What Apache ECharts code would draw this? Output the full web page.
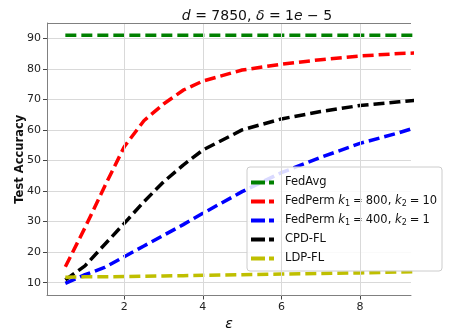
<!DOCTYPE html>
<html><head><meta charset="utf-8">
<script src="https://cdn.jsdelivr.net/npm/echarts@6/dist/echarts.min.js"></script>
<style>html,body{margin:0;padding:0;background:#fff;overflow:hidden}#c{width:451px;height:328px}</style>
</head><body><div id="c"></div>
<script>
// ---- data ----
var seriesNames = ['FedAvg', 'FedPerm800', 'FedPerm400', 'CPD-FL', 'LDP-FL'];
var epsAll  = [0.5, 1, 1.5, 2, 2.5, 3, 3.5, 4, 5, 6, 7, 8, 9, 10];
var epsRed  = [0.5, 1, 1.5, 2, 2.5, 3, 3.5, 4, 5, 6, 7, 8, 9, 9.8];
var epsBlue = [0.5, 1, 1.5, 2, 2.5, 3, 3.5, 4, 5, 6, 7, 8, 9, 9.57];
var fedAvg   = [91, 91, 91, 91, 91, 91, 91, 91, 91, 91, 91, 91, 91, 91];
var fedPerm800 = [15.2, 28, 41.5, 54.5, 63, 68.5, 73, 76, 79.6, 81.5, 83, 84.2, 85, 85.3];
var fedPerm400 = [9.8, 12.6, 15, 18.5, 22, 25.5, 29, 32.7, 39.8, 46, 51, 55.6, 59.1, 61.4];
var cpdFL    = [10.9, 15.5, 22.5, 29.4, 36.5, 43, 48.5, 53.4, 60, 63.6, 66, 68, 69.2, 70.4];
var ldpFL    = [11.8, 11.9, 11.9, 12.0, 12.1, 12.2, 12.3, 12.4, 12.6, 12.8, 13.0, 13.2, 13.5, 13.8];
var xTicks = [2, 4, 6, 8, 10];
var yTicks = [10, 20, 30, 40, 50, 60, 70, 80, 90];

function pairs(xs, ys) { return xs.map(function (x, i) { return [x, ys[i]]; }); }

var FONT = 'DejaVu Sans';
var dash = [11, 5];
var colors = ['#008000', '#ff0000', '#0000ff', '#000000', '#bfbf00'];
var iconPath = 'path://M0,0H14V4H0Z M18,0H23V4H18Z';
var X_MIN = 0.033, X_MAX = 9.3, Y_MIN = 5.8, Y_MAX = 95;
var GRID_COLOR = '#d9d9d9';

function mk(name, xs, ys, color) {
  return {
    name: name, type: 'line', data: pairs(xs, ys), symbol: 'none',
    color: color, z: 3,
    lineStyle: { color: color, width: 3.5, type: dash, cap: 'butt' },
    emphasis: { disabled: true }, animation: false
  };
}

var chart = echarts.init(document.getElementById('c'), null, { renderer: 'canvas' });
chart.setOption({
  animation: false,
  backgroundColor: '#fff',
  title: {
    text: '{i|d} = 7850, {i|δ} = 1{i|e} − 5',
    left: 252, top: 4, textAlign: 'center',
    textStyle: {
      fontFamily: FONT, fontSize: 14, fontWeight: 'normal', color: '#111',
      rich: { i: { fontFamily: FONT, fontSize: 14, fontStyle: 'italic', color: '#111' } }
    }
  },
  grid: { left: 47, right: 40, top: 23, bottom: 32.5, outerBoundsMode: 'none', containLabel: false },
  xAxis: {
    type: 'value', min: X_MIN, max: X_MAX,
    name: 'ε', nameLocation: 'middle', nameGap: 22, nameMoveOverlap: false,
    nameTextStyle: { fontFamily: FONT, fontSize: 14, fontStyle: 'italic', color: '#111' },
    axisLine: { show: true, lineStyle: { color: '#808080' } },
    axisTick: { show: true, length: 4, lineStyle: { color: '#444' }, customValues: xTicks },
    axisLabel: { fontFamily: FONT, fontSize: 11, color: '#222', margin: 6, customValues: xTicks },
    splitLine: { show: false }
  },
  yAxis: {
    type: 'value', min: Y_MIN, max: Y_MAX,
    name: 'Test Accuracy', nameLocation: 'middle', nameGap: 21, nameMoveOverlap: false,
    nameTextStyle: { fontFamily: FONT, fontSize: 11.5, fontWeight: 'bold', color: '#111' },
    axisLine: { show: true, lineStyle: { color: '#808080' } },
    axisTick: { show: true, length: 4, lineStyle: { color: '#444' }, customValues: yTicks },
    axisLabel: { fontFamily: FONT, fontSize: 11, color: '#222', margin: 6, customValues: yTicks },
    splitLine: { show: true, lineStyle: { color: GRID_COLOR, width: 1 }, customValues: yTicks }
  },
  legend: {
    orient: 'vertical', left: 247, top: 167,
    padding: [9, 5, 6, 4], itemGap: 6,
    itemWidth: 23, itemHeight: 4, icon: iconPath, symbolKeepAspect: false,
    backgroundColor: 'rgba(255,255,255,0.85)', borderColor: '#cccccc', borderWidth: 1, borderRadius: 3,
    data: seriesNames,
    formatter: function (n) {
      if (n === 'FedPerm800') return 'FedPerm {i|k}{s|1}{e|=}800, {i|k}{s|2}{e|=}10';
      if (n === 'FedPerm400') return 'FedPerm {i|k}{s|1}{e|=}400, {i|k}{s|2}{e|=}1';
      return n;
    },
    textStyle: {
      fontFamily: FONT, fontSize: 11.5, color: '#111', padding: [0, 0, 0, 6], lineHeight: 13,
      rich: {
        i: { fontFamily: FONT, fontSize: 11.5, fontStyle: 'italic', color: '#111', lineHeight: 13 },
        e: { fontFamily: FONT, fontSize: 11.5, color: '#111', lineHeight: 13, padding: [0, 3, 0, 3] },
        s: { fontFamily: FONT, fontSize: 8, color: '#111', verticalAlign: 'bottom', lineHeight: 9, padding: [4, 0, 0, 0] }
      }
    }
  },
  series: [
    {
      name: 'gridLines', type: 'line', data: [], z: 1, silent: true,
      markLine: {
        silent: true, symbol: 'none', animation: false,
        label: { show: false },
        lineStyle: { color: GRID_COLOR, width: 1, type: 'solid' },
        emphasis: { disabled: true },
        data: xTicks.map(function (v) { return { xAxis: v }; })
      }
    },
    {
      name: 'topSpine', type: 'line', data: [], z: 4, silent: true,
      markLine: {
        silent: true, symbol: 'none', animation: false,
        label: { show: false },
        lineStyle: { color: '#808080', width: 1, type: 'solid' },
        emphasis: { disabled: true },
        data: [{ yAxis: Y_MAX }]
      }
    },
    mk('FedAvg', epsAll, fedAvg, colors[0]),
    mk('FedPerm800', epsRed, fedPerm800, colors[1]),
    mk('FedPerm400', epsBlue, fedPerm400, colors[2]),
    mk('CPD-FL', epsAll, cpdFL, colors[3]),
    mk('LDP-FL', epsAll, ldpFL, colors[4])
  ]
});
</script></body></html>
